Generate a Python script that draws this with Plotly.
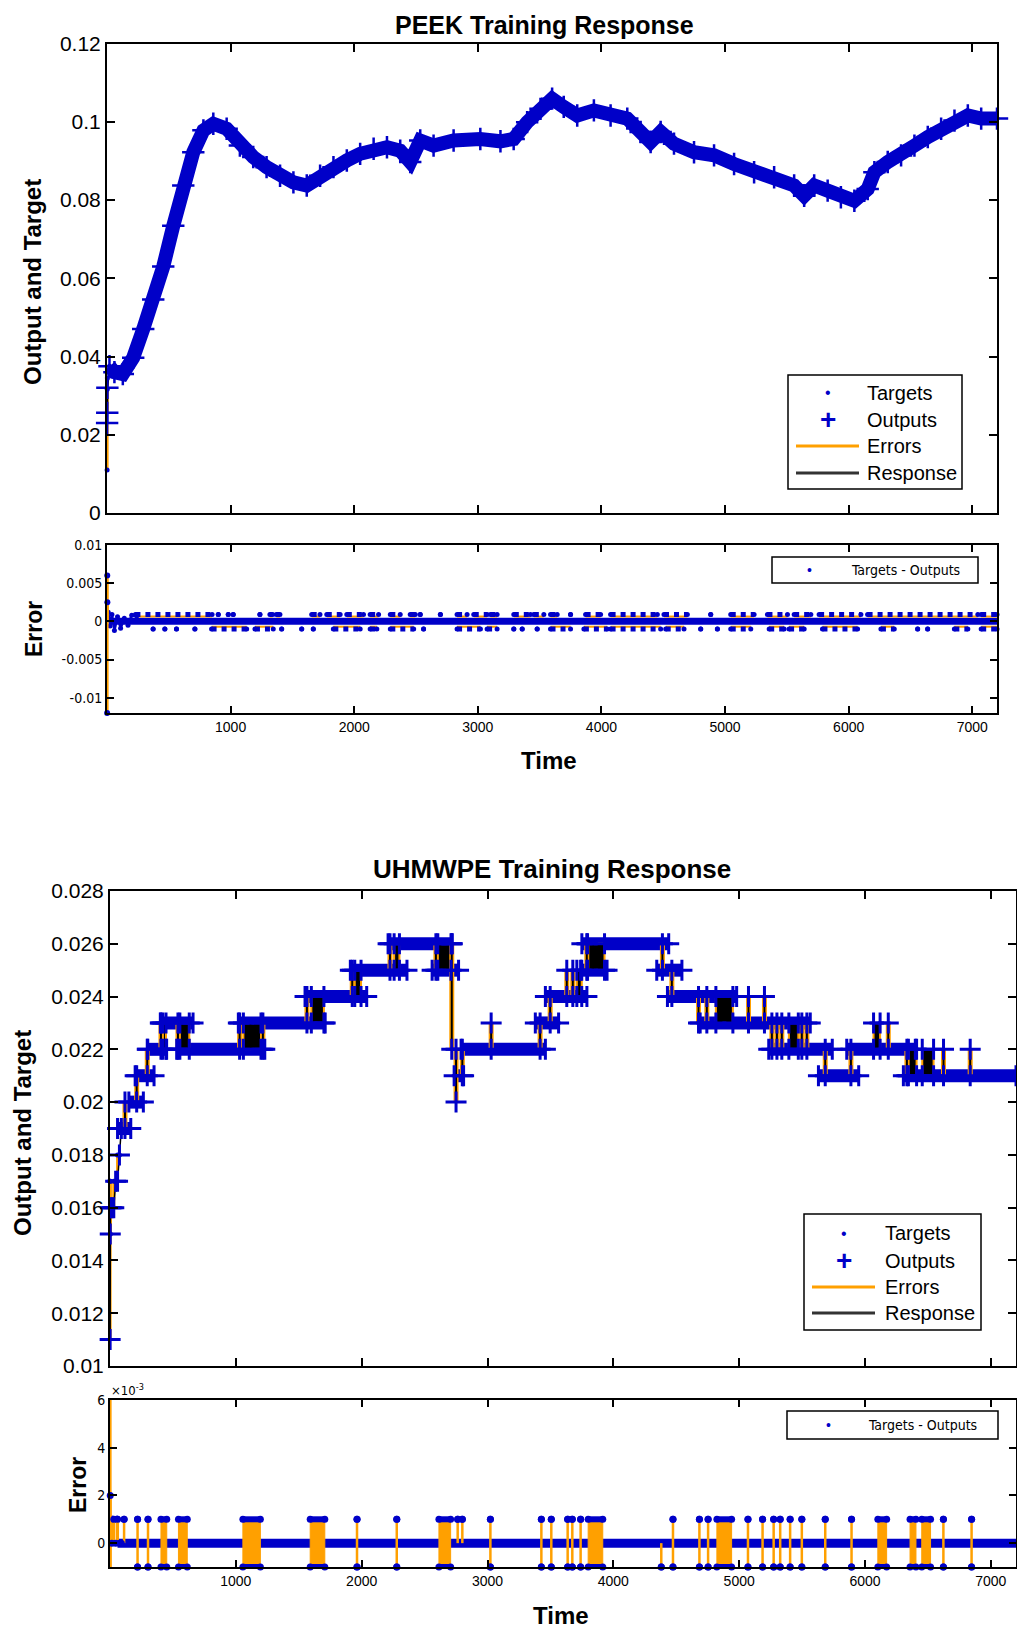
import plotly.graph_objects as go

W, H = 1017, 1630

# ---------------- PEEK training response ----------------
peek_time = [1, 2, 3, 20, 60, 128, 212, 293, 374, 455, 536, 617, 698, 780, 860, 968,
             1075, 1183, 1291, 1400, 1508, 1616, 1724, 1832, 1940, 2048, 2157, 2265,
             2372, 2453, 2534, 2642, 2804, 3020, 3183, 3290, 3399, 3507, 3601, 3695,
             3804, 3939, 4074, 4209, 4317, 4398, 4479, 4587, 4749, 4911, 5073, 5235,
             5397, 5559, 5640, 5721, 5830, 5937, 6046, 6154, 6208, 6316, 6424, 6532,
             6640, 6748, 6856, 6964, 7072, 7200]
peek_target = [0.011, 0.0316, 0.0345, 0.0375, 0.0360, 0.0355, 0.0397, 0.0470, 0.0546, 0.0630,
               0.0734, 0.0837, 0.0922, 0.0978, 0.0995, 0.0982, 0.0939, 0.0910, 0.0884, 0.0862,
               0.0845, 0.0837, 0.0862, 0.0884, 0.0901, 0.0918, 0.0931, 0.0935, 0.0926, 0.0897,
               0.0952, 0.0939, 0.0952, 0.0956, 0.0950, 0.0956, 0.0999, 0.1033, 0.1059, 0.1038,
               0.1016, 0.1029, 0.1016, 0.1008, 0.0974, 0.0948, 0.0974, 0.0944, 0.0922, 0.0914,
               0.0892, 0.0871, 0.0858, 0.0837, 0.0811, 0.0837, 0.0824, 0.0807, 0.0798, 0.0828,
               0.0871, 0.0897, 0.0914, 0.0939, 0.0961, 0.0982, 0.1003, 0.1016, 0.1008, 0.1008]
# network outputs differ from targets only during the first few steps
peek_output_start = [0.023, 0.0256, 0.032]
N0 = len(peek_output_start)
peek_output = peek_output_start + peek_target[N0:]
peek_error = [t - o for t, o in zip(peek_target, peek_output)]

# early ringing of the PEEK error
peek_ring_time = [10, 25, 40, 60, 85, 110, 140, 170, 200, 240]
peek_ring_value = [0.0012, -0.0006, 0.0009, -0.0012, 0.0006, -0.0009, 0.0004, -0.0005, 0.0008, 0.0007]

# runs of time steps where the PEEK error sits off zero
peek_err_pos_level = 0.0009
peek_err_pos_start = [230, 900, 981, 1021, 1237, 1318, 1370, 1656, 1778, 1940, 2129, 2292, 2453,
                      2534, 2697, 2832, 2967, 3102, 3291, 3453, 3588, 3750, 3872, 4074, 4506,
                      4884, 5046, 5343, 5559, 5761, 6153, 7072]
peek_err_pos_end = [850, 900, 981, 1021, 1237, 1340, 1399, 1723, 1886, 2075, 2197, 2372, 2494,
                    2534, 2697, 2913, 3075, 3156, 3426, 3534, 3642, 3750, 3993, 4452, 4695,
                    4884, 5235, 5505, 5694, 6099, 7045, 7200]
peek_err_neg_level = -0.001
peek_err_neg_start = [373, 468, 562, 711, 846, 1197, 1413, 1575, 1669, 1831, 2129, 2292, 2561,
                      2832, 3075, 3291, 3359, 3480, 3588, 3858, 4074, 4520, 4803, 4938, 5046,
                      5357, 5518, 5788, 6261, 6558, 6639, 6855, 7072]
peek_err_neg_end = [373, 468, 562, 711, 1130, 1345, 1413, 1575, 1669, 2048, 2183, 2481, 2561,
                    3021, 3156, 3291, 3359, 3480, 3750, 4047, 4479, 4668, 4803, 4938, 5208,
                    5478, 5640, 6072, 6369, 6558, 6639, 6964, 7200]

# ---------------- UHMWPE training response ----------------
uh_init_time = [1, 2, 3, 15, 30, 45, 60, 75, 90]
uh_init_target = [0.017, 0.017, 0.015, 0.016, 0.017, 0.017, 0.018, 0.018, 0.019]
uh_init_output = [0.011, 0.015, 0.016, 0.016, 0.016, 0.017, 0.017, 0.018, 0.019]
uh_init_error = [t - o for t, o in zip(uh_init_target, uh_init_output)]

# plateaus of the quantised target
uh_level_start = [60, 150, 200, 300, 400, 530, 1020, 1550, 1910, 2210, 2560, 2735, 2790,
                  3380, 3460, 3740, 3750, 4345, 4430, 4690, 5235, 5630, 5855, 6305]
uh_level_end = [165, 265, 350, 450, 660, 1230, 1710, 2040, 2360, 2720, 2770, 2810, 3460,
                3565, 3790, 3950, 4440, 4545, 4980, 5565, 5740, 5950, 6400, 7200]
uh_level_value = [0.019, 0.020, 0.021, 0.022, 0.023, 0.022, 0.023, 0.024, 0.025, 0.026,
                  0.025, 0.021, 0.022, 0.023, 0.024, 0.025, 0.026, 0.025, 0.024, 0.023,
                  0.022, 0.021, 0.022, 0.021]

# single jumps of the response between two levels
uh_jump_time = [119, 212, 296, 405, 540, 1030, 1215, 1565, 1925, 2225, 2590, 2716, 2750,
                2800, 3029, 3418, 3498, 3630, 3678, 3789, 4390, 4465, 4677, 4743, 5074,
                5201, 5260, 5300, 5339, 5498, 5538, 5684, 5888, 6185, 6333, 6624, 6836]
uh_jump_low = [0.019, 0.020, 0.021, 0.022, 0.022, 0.022, 0.022, 0.023, 0.024, 0.025, 0.025,
               0.022, 0.020, 0.021, 0.022, 0.022, 0.023, 0.024, 0.024, 0.025, 0.025, 0.024,
               0.023, 0.023, 0.023, 0.023, 0.022, 0.022, 0.022, 0.022, 0.022, 0.021, 0.021,
               0.022, 0.021, 0.021, 0.021]
uh_jump_high = [0.020, 0.021, 0.022, 0.023, 0.023, 0.023, 0.023, 0.024, 0.025, 0.026, 0.026,
                0.026, 0.022, 0.022, 0.023, 0.023, 0.024, 0.025, 0.025, 0.026, 0.026, 0.025,
                0.024, 0.024, 0.024, 0.024, 0.023, 0.023, 0.023, 0.023, 0.023, 0.022, 0.022,
                0.023, 0.022, 0.022, 0.022]

# stretches where the response flips rapidly between two levels
uh_block_start = [420, 555, 1060, 1600, 1945, 2258, 2605, 3710, 3795, 4815, 5395, 6068, 6345, 6455]
uh_block_end = [445, 630, 1200, 1700, 1995, 2300, 2710, 3749, 3930, 4950, 5470, 6120, 6410, 6545]
uh_block_low = [0.022, 0.022, 0.022, 0.023, 0.024, 0.025, 0.025, 0.024, 0.025, 0.023, 0.022,
                0.022, 0.021, 0.021]
uh_block_high = [0.023, 0.023, 0.023, 0.024, 0.025, 0.026, 0.026, 0.025, 0.026, 0.024, 0.023,
                 0.023, 0.022, 0.022]

# UHMWPE error: bursts of +/-0.001 quantisation error
uh_err_start = [19, 56, 112, 219, 302, 405, 544, 1056, 1591, 1963, 2279, 2614, 2763, 2800, 3023,
                3428, 3507, 3637, 3674, 3740, 3800, 4381, 4474, 4684, 4753, 4823, 5070, 5186,
                5274, 5326, 5405, 5498, 5684, 5893, 6102, 6358, 6451, 6623, 6847]
uh_err_end = [19, 56, 112, 219, 302, 451, 614, 1195, 1707, 1963, 2279, 2707, 2763, 2800, 3023,
              3428, 3507, 3637, 3674, 3740, 3916, 4381, 4474, 4684, 4753, 4940, 5070, 5186,
              5274, 5326, 5405, 5498, 5684, 5893, 6172, 6405, 6521, 6623, 6847]
uh_err_low = [0, 0, 0, -0.001, -0.001, -0.001, -0.001, -0.001, -0.001, -0.001, -0.001, -0.001,
              0, 0, -0.001, -0.001, -0.001, -0.001, -0.001, -0.001, -0.001, -0.001, -0.001,
              -0.001, -0.001, -0.001, -0.001, -0.001, -0.001, -0.001, -0.001, -0.001, -0.001,
              -0.001, -0.001, -0.001, -0.001, -0.001, -0.001]
uh_err_high = [0.001] * 21 + [0] + [0.001] * 17

x_ticks = [1000, 2000, 3000, 4000, 5000, 6000, 7000]
peek_yticks = [0, 0.02, 0.04, 0.06, 0.08, 0.1, 0.12]
peek_ylabels = ["0", "0.02", "0.04", "0.06", "0.08", "0.1", "0.12"]
peek_err_yticks = [-0.01, -0.005, 0, 0.005, 0.01]
peek_err_ylabels = ["-0.01", "-0.005", "0", "0.005", "0.01"]
uh_yticks = [0.01, 0.012, 0.014, 0.016, 0.018, 0.02, 0.022, 0.024, 0.026, 0.028]
uh_ylabels = ["0.01", "0.012", "0.014", "0.016", "0.018", "0.02", "0.022", "0.024", "0.026", "0.028"]
uh_err_yticks = [0, 0.002, 0.004, 0.006]
uh_err_ylabels = ["0", "2", "4", "6"]

# ---------------- styling ----------------
BLUE = "#0000C8"
ORANGE = "#FFA000"
BLACK = "#000000"
FONT = "Liberation Sans, Arial, Helvetica, sans-serif"
NARROW = "Liberation Sans Narrow, Arial Narrow, DejaVu Sans Condensed, sans-serif"


def px(x):
    return x / W


def py(y):
    return 1 - y / H


fig = go.Figure()
AXES = {1: ("x", "y"), 2: ("x2", "y2"), 3: ("x3", "y3"), 4: ("x4", "y4")}


def add(panel, **kw):
    kw.setdefault("cliponaxis", False)
    fig.add_trace(go.Scatter(xaxis=AXES[panel][0], yaxis=AXES[panel][1],
                             showlegend=False, hoverinfo="skip", **kw))


def vsegs(ts, lo, hi):
    xs, ys = [], []
    for t, a, b in zip(ts, lo, hi):
        xs += [t, t, None]
        ys += [a, b, None]
    return xs, ys


def hsegs(t0, t1, lev):
    xs, ys = [], []
    for a, b, v in zip(t0, t1, lev):
        xs += [a, b, None]
        ys += [v, v, None]
    return xs, ys


def plus(size=14, w=2.5):
    return dict(symbol="cross-thin", size=size, line=dict(color=BLUE, width=w), color=BLUE)


# ===== Panel 1: PEEK output and target =====
ex, ey = vsegs(peek_time[:N0], peek_target[:N0], peek_output[:N0])
add(1, x=ex, y=ey, mode="lines", line=dict(color=ORANGE, width=3))
add(1, x=peek_time, y=peek_output, mode="lines", line=dict(color=BLACK, width=2))
add(1, x=peek_time[N0:], y=peek_output[N0:], mode="lines", line=dict(color=BLUE, width=14))
add(1, x=peek_time, y=peek_output, mode="markers", marker=plus(16, 2.5))
add(1, x=peek_time, y=peek_target, mode="markers", marker=dict(color=BLUE, size=5))

# ===== Panel 2: PEEK error =====
add(2, x=peek_time[N0:], y=peek_error[N0:], mode="lines", line=dict(color=BLUE, width=7))
for s0, s1, lev in ((peek_err_pos_start, peek_err_pos_end, peek_err_pos_level),
                    (peek_err_neg_start, peek_err_neg_end, peek_err_neg_level)):
    ox, oy = hsegs(s0, s1, [lev * 0.7] * len(s0))
    add(2, x=ox, y=oy, mode="lines", line=dict(color=ORANGE, width=2))
    bx, by = hsegs(s0, s1, [lev] * len(s0))
    add(2, x=bx, y=by, mode="lines", line=dict(color=BLUE, width=5, dash="dot"))
    add(2, x=s0 + s1, y=[lev] * (2 * len(s0)), mode="markers",
        marker=dict(color=BLUE, size=5))
add(2, x=peek_ring_time, y=peek_ring_value, mode="lines+markers",
    line=dict(color=BLUE, width=2.5), marker=dict(color=BLUE, size=5))
sx, sy = vsegs(peek_time[:N0], [0] * N0, peek_error[:N0])
add(2, x=sx, y=sy, mode="lines", line=dict(color=ORANGE, width=3))
add(2, x=peek_time[:N0], y=peek_error[:N0], mode="markers", marker=dict(color=BLUE, size=6))

# ===== Panel 3: UHMWPE output and target =====
lx, ly = hsegs(uh_level_start, uh_level_end, uh_level_value)
add(3, x=lx, y=ly, mode="lines", line=dict(color=BLUE, width=13))
for a, b, lo, hi in zip(uh_block_start, uh_block_end, uh_block_low, uh_block_high):
    add(3, x=[a, b, b, a, a], y=[lo, lo, hi, hi, lo], mode="lines", fill="toself",
        fillcolor=BLACK, line=dict(color=ORANGE, width=2))
jx, jy = vsegs(uh_jump_time, uh_jump_low, uh_jump_high)
add(3, x=jx, y=jy, mode="lines", line=dict(color=ORANGE, width=5))
add(3, x=jx, y=jy, mode="lines", line=dict(color=BLACK, width=2))
ix, iy = vsegs(uh_init_time, uh_init_target, uh_init_output)
add(3, x=ix, y=iy, mode="lines", line=dict(color=ORANGE, width=3))
add(3, x=uh_init_time, y=uh_init_output, mode="lines", line=dict(color=BLACK, width=1.5))
add(3, x=uh_level_start + uh_level_end, y=uh_level_value + uh_level_value,
    mode="markers", marker=plus(15, 3))
add(3, x=uh_jump_time + uh_jump_time, y=uh_jump_low + uh_jump_high,
    mode="markers", marker=plus(15, 3))
add(3, x=uh_block_start + uh_block_end + uh_block_start + uh_block_end,
    y=uh_block_low + uh_block_low + uh_block_high + uh_block_high,
    mode="markers", marker=plus(15, 3))
add(3, x=uh_init_time, y=uh_init_output, mode="markers", marker=plus(15, 3))
add(3, x=uh_init_time, y=uh_init_target, mode="markers", marker=dict(color=BLUE, size=5))

# ===== Panel 4: UHMWPE error =====
add(4, x=[min(uh_level_start), max(uh_level_end)], y=[0, 0], mode="lines",
    line=dict(color=BLUE, width=9))
for a, b, lo, hi in zip(uh_err_start, uh_err_end, uh_err_low, uh_err_high):
    if b > a:
        add(4, x=[a, b, b, a, a], y=[lo, lo, hi, hi, lo], mode="lines", fill="toself",
            fillcolor=ORANGE, line=dict(color=ORANGE, width=1))
    else:
        add(4, x=[a, a], y=[lo, hi], mode="lines", line=dict(color=ORANGE, width=2.5))
ex4, ey4 = [], []
for a, b, lo, hi in zip(uh_err_start, uh_err_end, uh_err_low, uh_err_high):
    for v in (lo, hi):
        if v != 0:
            ex4 += [a, b, None]
            ey4 += [v, v, None]
add(4, x=ex4, y=ey4, mode="lines+markers", line=dict(color=BLUE, width=6),
    marker=dict(color=BLUE, size=7))
sx, sy = vsegs(uh_init_time, [0] * len(uh_init_time), uh_init_error)
add(4, x=sx, y=sy, mode="lines", line=dict(color=ORANGE, width=3))
add(4, x=uh_init_time, y=uh_init_error, mode="markers", marker=dict(color=BLUE, size=7))

# ---------------- axes ----------------
common = dict(showline=True, linecolor=BLACK, linewidth=2, mirror="allticks",
              ticks="inside", tickwidth=2, tickcolor=BLACK, automargin=False,
              showgrid=False, zeroline=False, fixedrange=True)
main_tick_font = dict(family=FONT, size=21, color=BLACK)
err_tick_font = dict(family=FONT, size=14, color=BLACK)
err_ytick_font = dict(family=NARROW, size=14, color=BLACK)

xa_dom = [px(107), px(997)]
xb_dom = [px(110), px(1016)]

fig.update_layout(
    width=W, height=H, margin=dict(l=0, r=0, t=0, b=0, pad=0, autoexpand=False),
    paper_bgcolor="white", plot_bgcolor="white", showlegend=False,
    xaxis=dict(domain=xa_dom, anchor="y", range=[0, 7200], tickvals=x_ticks,
               showticklabels=False, ticklen=8, **common),
    yaxis=dict(domain=[py(513), py(43.5)], anchor="x", range=[0, 0.12], ticklen=8,
               tickvals=peek_yticks, ticktext=peek_ylabels, tickfont=main_tick_font, **common),
    xaxis2=dict(domain=xa_dom, anchor="y2", range=[0, 7200], tickvals=x_ticks, ticklen=7,
                tickfont=err_tick_font, **common),
    yaxis2=dict(domain=[py(713), py(545)], anchor="x2", range=[-0.012, 0.01], ticklen=7,
                tickvals=peek_err_yticks, ticktext=peek_err_ylabels, tickfont=err_ytick_font,
                **common),
    xaxis3=dict(domain=xb_dom, anchor="y3", range=[0, 7200], tickvals=x_ticks,
                showticklabels=False, ticklen=8, **common),
    yaxis3=dict(domain=[py(1366), py(891)], anchor="x3", range=[0.01, 0.028], ticklen=8,
                tickvals=uh_yticks, ticktext=uh_ylabels, tickfont=main_tick_font, **common),
    xaxis4=dict(domain=xb_dom, anchor="y4", range=[0, 7200], tickvals=x_ticks, ticklen=7,
                tickfont=err_tick_font, **common),
    yaxis4=dict(domain=[py(1567), py(1400)], anchor="x4", range=[-0.001, 0.006], ticklen=7,
                tickvals=uh_err_yticks, ticktext=uh_err_ylabels, tickfont=err_ytick_font,
                **common),
)

annotations = []
shapes = []


def text(x, y, s, size, bold=False, angle=0, anchor="center", family=FONT, color=BLACK):
    annotations.append(dict(
        x=px(x), y=py(y), xref="paper", yref="paper", showarrow=False,
        text=f"<b>{s}</b>" if bold else s, textangle=angle,
        xanchor=anchor, yanchor="middle",
        font=dict(family=family, size=size, color=color)))


# titles and axis labels
text(544, 25, "PEEK Training Response", 25, bold=True)
text(32, 282, "Output and Target", 24, bold=True, angle=-90)
text(34, 629, "Error", 23, bold=True, angle=-90)
text(549, 760, "Time", 24, bold=True)
text(552, 869, "UHMWPE Training Response", 26, bold=True)
text(22, 1133, "Output and Target", 24, bold=True, angle=-90)
text(78, 1485, "Error", 23, bold=True, angle=-90)
text(561, 1615, "Time", 24, bold=True)
text(109, 1390, "×10<sup>-3</sup>", 13, anchor="left", family=NARROW)


def main_legend(x0, y0, x1, y1, rows, sym_x, line_x0, line_x1, text_x):
    shapes.append(dict(type="rect", xref="paper", yref="paper", x0=px(x0), x1=px(x1),
                       y0=py(y1), y1=py(y0), line=dict(color=BLACK, width=1.5),
                       fillcolor="white", layer="above"))
    labels = ["Targets", "Outputs", "Errors", "Response"]
    text(sym_x, rows[0], "•", 16, color=BLUE)
    text(sym_x, rows[1] - 1, "+", 28, bold=True, color=BLUE)
    for yy, col in ((rows[2], ORANGE), (rows[3], "#333333")):
        shapes.append(dict(type="line", xref="paper", yref="paper", x0=px(line_x0),
                           x1=px(line_x1), y0=py(yy), y1=py(yy),
                           line=dict(color=col, width=3), layer="above"))
    for yy, lab in zip(rows, labels):
        text(text_x, yy, lab, 20, anchor="left")


def err_legend(x0, y0, x1, y1, dot_x, text_x):
    shapes.append(dict(type="rect", xref="paper", yref="paper", x0=px(x0), x1=px(x1),
                       y0=py(y1), y1=py(y0), line=dict(color=BLACK, width=1.5),
                       fillcolor="white", layer="above"))
    yy = (y0 + y1) / 2
    text(dot_x, yy, "•", 14, color=BLUE)
    text(text_x, yy, "Targets - Outputs", 14, family=NARROW)


main_legend(788, 375, 962, 489, [393, 420, 446, 473], 828, 796, 859, 865)
main_legend(804, 1214, 981, 1330, [1233, 1261, 1287, 1313], 844, 812, 875, 883)
err_legend(772, 557, 978, 583, 809, 905)
err_legend(787, 1411, 998, 1439, 828, 922)

fig.update_layout(annotations=annotations, shapes=shapes)
fig.write_html("out.html", post_script="document.body.style.margin='0px';")
